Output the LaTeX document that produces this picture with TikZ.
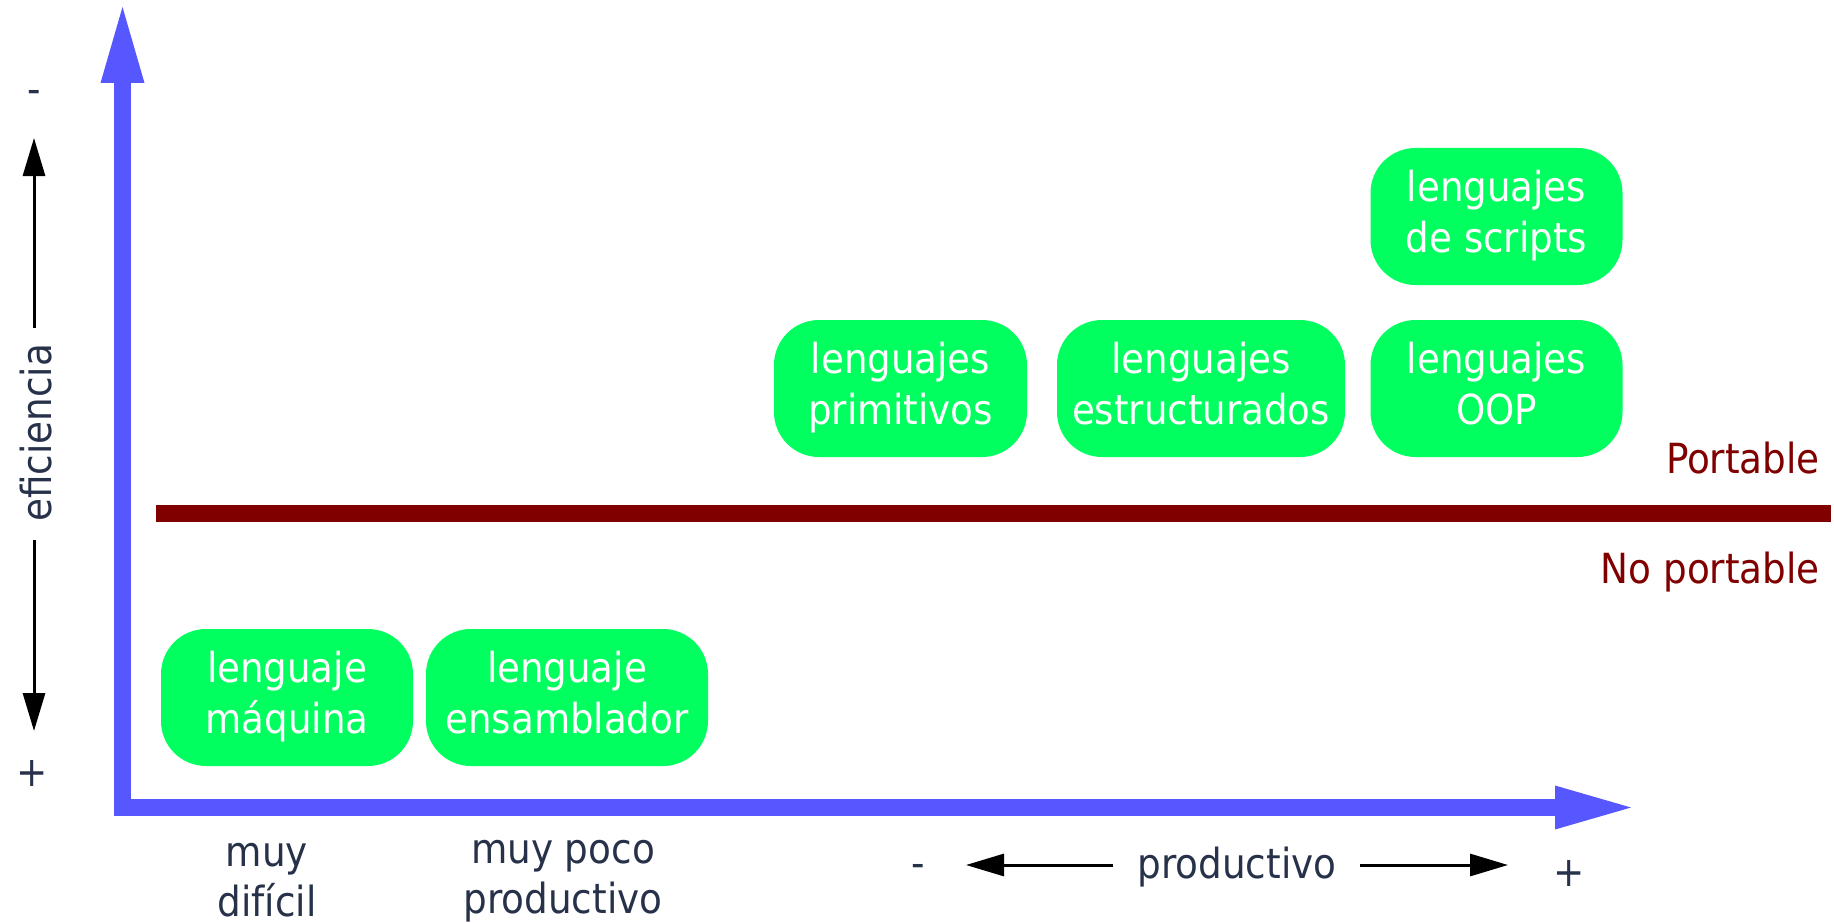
\documentclass[tikz,border=0pt]{standalone}
\usepackage{fontspec}
\setmainfont{DejaVu Sans Condensed}
\usetikzlibrary{arrows.meta}
\definecolor{axisblue}{HTML}{5757FF}
\definecolor{boxgreen}{HTML}{00FF5F}
\definecolor{portred}{HTML}{800000}
\definecolor{labelink}{HTML}{27324A}
\newcommand{\bxs}{\rule[-10pt]{0pt}{41pt}}
\newcommand{\lbs}{\rule[-10pt]{0pt}{41pt}}
\begin{document}
\begin{tikzpicture}[x=1pt,y=-1pt,
  lang/.style={rounded corners=45pt, fill=boxgreen, text=white, minimum height=137pt,
    minimum width=252pt, inner sep=0pt, align=center, font=\fontsize{41.3}{51}\selectfont},
  lbl/.style={text=labelink, inner sep=0pt, align=center, font=\fontsize{41.5}{50}\selectfont},
  port/.style={text=portred, inner sep=0pt, font=\fontsize{41.5}{50}\selectfont},
  smallarrow/.style={line width=3pt, -{Triangle[length=38pt,width=22pt]}},
  axisline/.style={axisblue, line width=17pt, line join=miter},
]
\useasboundingbox (0,0) rectangle (1834,923);

% axes
\coordinate (ybase) at (122.5,83);
\coordinate (origin) at (122.5,807.5);
\coordinate (xbase) at (1555,807.5);
\draw[axisline] (ybase) -- (origin) -- (xbase);
\fill[axisblue] (100.5,83) -- (122.5,7) -- (144.5,83) -- cycle;
\fill[axisblue] (1555,785.5) -- (1631,807.5) -- (1555,829.5) -- cycle;

% portability line
\coordinate (pl) at (156,513.5);
\coordinate (pr) at (1831,513.5);
\draw[portred, line width=17pt] (pl) -- (pr);
\node[port, anchor=base east] (port) at (1820,473) {Portable};
\node[port, anchor=base east] (noport) at (1820,583) {No portable};

% language boxes
\node[lang] (maq) at (287,697.5) {\bxs lenguaje\\\bxs máquina};
\node[lang, minimum width=282pt] (ens) at (567,697.5) {\bxs lenguaje\\\bxs ensamblador};
\node[lang, minimum width=253pt] (pri) at (900.5,388.5) {\bxs lenguajes\\\bxs primitivos};
\node[lang, minimum width=288pt] (est) at (1201,388.5) {\bxs lenguajes\\\bxs estructurados};
\node[lang] (oop) at (1496.5,388.5) {\bxs lenguajes\\\bxs OOP};
\node[lang] (scr) at (1496.5,216.5) {\bxs lenguajes\\\bxs de scripts};

% efficiency axis label
\node[lbl] (emin) at (34,97) {-};
\node[lbl] (eplus) at (32,773) {+};
\node[lbl, rotate=90] (efi) at (36,433) {eficiencia};
\coordinate (eup0) at (34,328);
\coordinate (eup1) at (34,138);
\coordinate (edn0) at (34,540);
\coordinate (edn1) at (34,731);
\draw[smallarrow] (eup0) -- (eup1);
\draw[smallarrow] (edn0) -- (edn1);

% productivity label
\node[lbl, anchor=base] (prod) at (1237,878) {productivo};
\node[lbl] (pmin) at (918,871) {-};
\node[lbl] (pplus) at (1569,873) {+};
\coordinate (pl0) at (1113,865);
\coordinate (pl1) at (966,865);
\coordinate (pr0) at (1360,865);
\coordinate (pr1) at (1508,865);
\draw[smallarrow] (pl0) -- (pl1);
\draw[smallarrow] (pr0) -- (pr1);

% bottom labels
\node[lbl, anchor=north] (dif) at (267,835) {\lbs muy\\\lbs difícil};
\node[lbl, anchor=north] (poco) at (563,832) {\lbs muy poco\\\lbs productivo};
\end{tikzpicture}
\end{document}
